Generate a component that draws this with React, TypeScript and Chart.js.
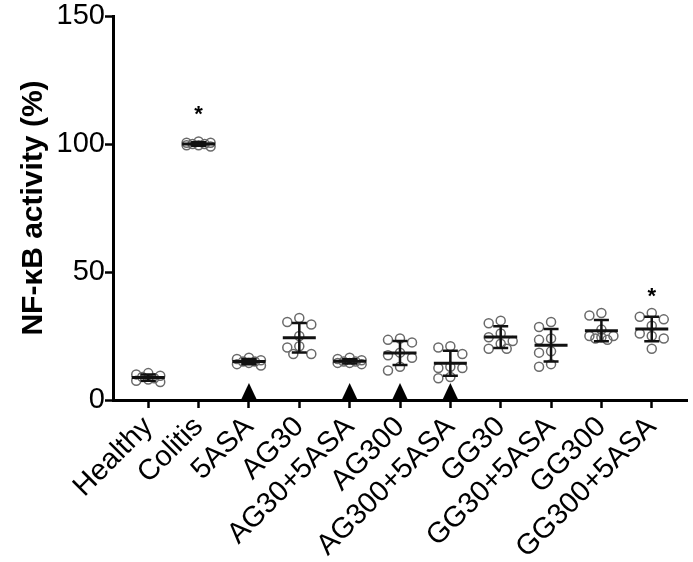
import React, { useEffect, useRef } from "react";
import { Chart, registerables } from "chart.js";

Chart.register(...registerables);

// ---- data ----
const groups = [
  "Healthy",
  "Colitis",
  "5ASA",
  "AG30",
  "AG30+5ASA",
  "AG300",
  "AG300+5ASA",
  "GG30",
  "GG30+5ASA",
  "GG300",
  "GG300+5ASA",
];

const healthy = [10.5, 10, 9.5, 9, 8.5, 8, 7.5, 7];
const colitis = [101, 100.5, 100.5, 100, 100, 99.5, 99.5, 99];
const asa5 = [16.5, 16, 15.5, 15, 15, 14.5, 14, 13.5];
const ag30 = [32, 30.5, 29.5, 25, 21, 20.5, 18, 18];
const ag30asa = [16.5, 16, 15.5, 15, 15, 14.5, 14.5, 14];
const ag300 = [24, 23.5, 22.5, 18.5, 17.5, 16.5, 13, 11.5];
const ag300asa = [21, 20.5, 18, 13, 12.5, 12.5, 9, 8.5];
const gg30 = [31, 30, 26, 24.5, 23, 22, 20, 20];
const gg30asa = [30.5, 28.5, 24, 23.5, 19, 18.5, 14, 13];
const gg300 = [34, 33, 27.5, 25, 25, 24.5, 24, 23.5];
const gg300asa = [34, 32.5, 31.5, 29, 26, 25, 24, 20];

const groupValues = [
  healthy,
  colitis,
  asa5,
  ag30,
  ag30asa,
  ag300,
  ag300asa,
  gg30,
  gg30asa,
  gg300,
  gg300asa,
];

const arrowGroups = ["5ASA", "AG30+5ASA", "AG300", "AG300+5ASA"];
const starGroups = ["Colitis", "GG300+5ASA"];
const starLevels = [113, 42];

const yMin = 0;
const yMax = 150;
const yStep = 50;
const yTitle = "NF-\u03baB activity (%)";

// ---- helpers ----
const mean = (a: number[]) => a.reduce((s, v) => s + v, 0) / a.length;
const sd = (a: number[]) => {
  const m = mean(a);
  return Math.sqrt(a.reduce((s, v) => s + (v - m) * (v - m), 0) / (a.length - 1));
};

// simple bounded beeswarm: returns pixel offsets per point
function swarm(pys: number[], step: number, minDist: number): number[] {
  const order = pys.map((_, i) => i).sort((a, b) => pys[a] - pys[b]);
  const placed: { x: number; y: number }[] = [];
  const offs = new Array(pys.length).fill(0);
  const cands = [0, -2, 2, -1, 1].map((k) => k * step);
  for (const i of order) {
    const y = pys[i];
    let chosen = 0;
    let bestD = -1;
    let found = false;
    for (const c of cands) {
      const d = placed.reduce((mn, p) => Math.min(mn, Math.hypot(p.x - c, p.y - y)), Infinity);
      if (d >= minDist) {
        chosen = c;
        found = true;
        break;
      }
      if (d > bestD) {
        bestD = d;
        chosen = c;
      }
    }
    if (!found && bestD < 0) chosen = 0;
    offs[i] = chosen;
    placed.push({ x: chosen, y });
  }
  return offs;
}

const FONT = "'Liberation Sans', Arial, sans-serif";

const summaryPlugin = {
  id: "summary",
  afterDatasetsDraw(chart: any) {
    const { ctx, scales } = chart;
    const xs = scales.x;
    const ys = scales.y;
    ctx.save();
    ctx.strokeStyle = "#111";
    groupValues.forEach((vals, gi) => {
      const cx = xs.getPixelForValue(gi);
      const m = mean(vals);
      const s = sd(vals);
      const pm = ys.getPixelForValue(m);
      const pt = ys.getPixelForValue(m + s);
      const pb = ys.getPixelForValue(m - s);
      ctx.lineWidth = 2.5;
      ctx.beginPath();
      ctx.moveTo(cx, pt);
      ctx.lineTo(cx, pb);
      ctx.moveTo(cx - 7.5, pt);
      ctx.lineTo(cx + 7.5, pt);
      ctx.moveTo(cx - 7.5, pb);
      ctx.lineTo(cx + 7.5, pb);
      ctx.stroke();
      ctx.lineWidth = 3;
      ctx.beginPath();
      ctx.moveTo(cx - 16.5, pm);
      ctx.lineTo(cx + 16.5, pm);
      ctx.stroke();
    });
    ctx.restore();
  },
  afterDraw(chart: any) {
    const { ctx, scales } = chart;
    const xs = scales.x;
    const ys = scales.y;
    ctx.save();
    ctx.fillStyle = "#000";
    arrowGroups.forEach((g) => {
      const cx = xs.getPixelForValue(groups.indexOf(g));
      const base = ys.getPixelForValue(yMin);
      ctx.beginPath();
      ctx.moveTo(cx, base - 17);
      ctx.lineTo(cx + 8, base);
      ctx.lineTo(cx - 8, base);
      ctx.closePath();
      ctx.fill();
    });
    ctx.font = `bold 22px ${FONT}`;
    ctx.textAlign = "center";
    ctx.textBaseline = "middle";
    starGroups.forEach((g, i) => {
      const cx = xs.getPixelForValue(groups.indexOf(g));
      const cy = ys.getPixelForValue(starLevels[i]);
      ctx.fillText("*", cx, cy + 4);
    });
    ctx.restore();
  },
};

export default function App() {
  const ref = useRef<HTMLCanvasElement | null>(null);

  useEffect(() => {
    document.body.style.margin = "0";
    const canvas = ref.current;
    if (!canvas) return;

    const points = groupValues.flatMap((vals, gi) => vals.map((v) => ({ x: gi, y: v })));

    const chart = new Chart(canvas, {
      type: "scatter",
      data: {
        datasets: [
          {
            data: points,
            pointStyle: "circle",
            pointRadius: 4.5,
            pointHoverRadius: 4.5,
            pointBorderWidth: 1.5,
            pointBorderColor: "#6a6a6a",
            pointBackgroundColor: "rgba(0,0,0,0)",
            showLine: false,
            clip: false as any,
          },
        ],
      },
      options: {
        responsive: false,
        animation: false,
        events: [],
        layout: { padding: { top: 16, right: 2, left: 0, bottom: 0 } },
        plugins: { legend: { display: false }, tooltip: { enabled: false } },
        scales: {
          x: {
            type: "linear",
            min: -0.7,
            max: 10.7,
            afterBuildTicks: (s: any) => {
              s.ticks = groups.map((_, i) => ({ value: i }));
            },
            afterFit: (s: any) => {
              s.height = 162;
            },
            ticks: {
              autoSkip: false,
              minRotation: 45,
              maxRotation: 45,
              padding: 2,
              color: "#000",
              font: { family: FONT, size: 29 },
              callback: (v: any) => groups[Math.round(Number(v))] ?? "",
            },
            grid: {
              drawOnChartArea: false,
              drawTicks: true,
              tickLength: 8,
              tickWidth: 2.5,
              tickColor: "#000",
            },
            border: { color: "#000", width: 3 },
          },
          y: {
            min: yMin,
            max: yMax,
            afterFit: (s: any) => {
              s.width = 113;
            },
            ticks: {
              stepSize: yStep,
              padding: 0,
              color: "#000",
              font: { family: FONT, size: 29, lineHeight: 1.1 },
            },
            grid: {
              drawOnChartArea: false,
              drawTicks: true,
              tickLength: 8,
              tickWidth: 2.5,
              tickColor: "#000",
            },
            border: { color: "#000", width: 3 },
            title: {
              display: true,
              text: yTitle,
              color: "#000",
              font: { family: FONT, size: 30, weight: "bold" },
              padding: { top: 16, bottom: 0 },
            },
          },
        },
      },
      plugins: [summaryPlugin],
    });

    // beeswarm layout in pixel space, using the library's scales
    const xs: any = chart.scales.x;
    const ys: any = chart.scales.y;
    const unitPx = xs.getPixelForValue(1) - xs.getPixelForValue(0);
    const swarmed = groupValues.flatMap((vals, gi) => {
      const pys = vals.map((v) => ys.getPixelForValue(v));
      const offs = swarm(pys, 6, 9);
      return vals.map((v, i) => ({ x: gi + offs[i] / unitPx, y: v }));
    });
    (chart.data.datasets[0] as any).data = swarmed;
    chart.update("none");

    return () => chart.destroy();
  }, []);

  return (
    <div style={{ width: 693, height: 562 }}>
      <canvas ref={ref} width={693} height={562} style={{ display: "block" }} />
    </div>
  );
}
